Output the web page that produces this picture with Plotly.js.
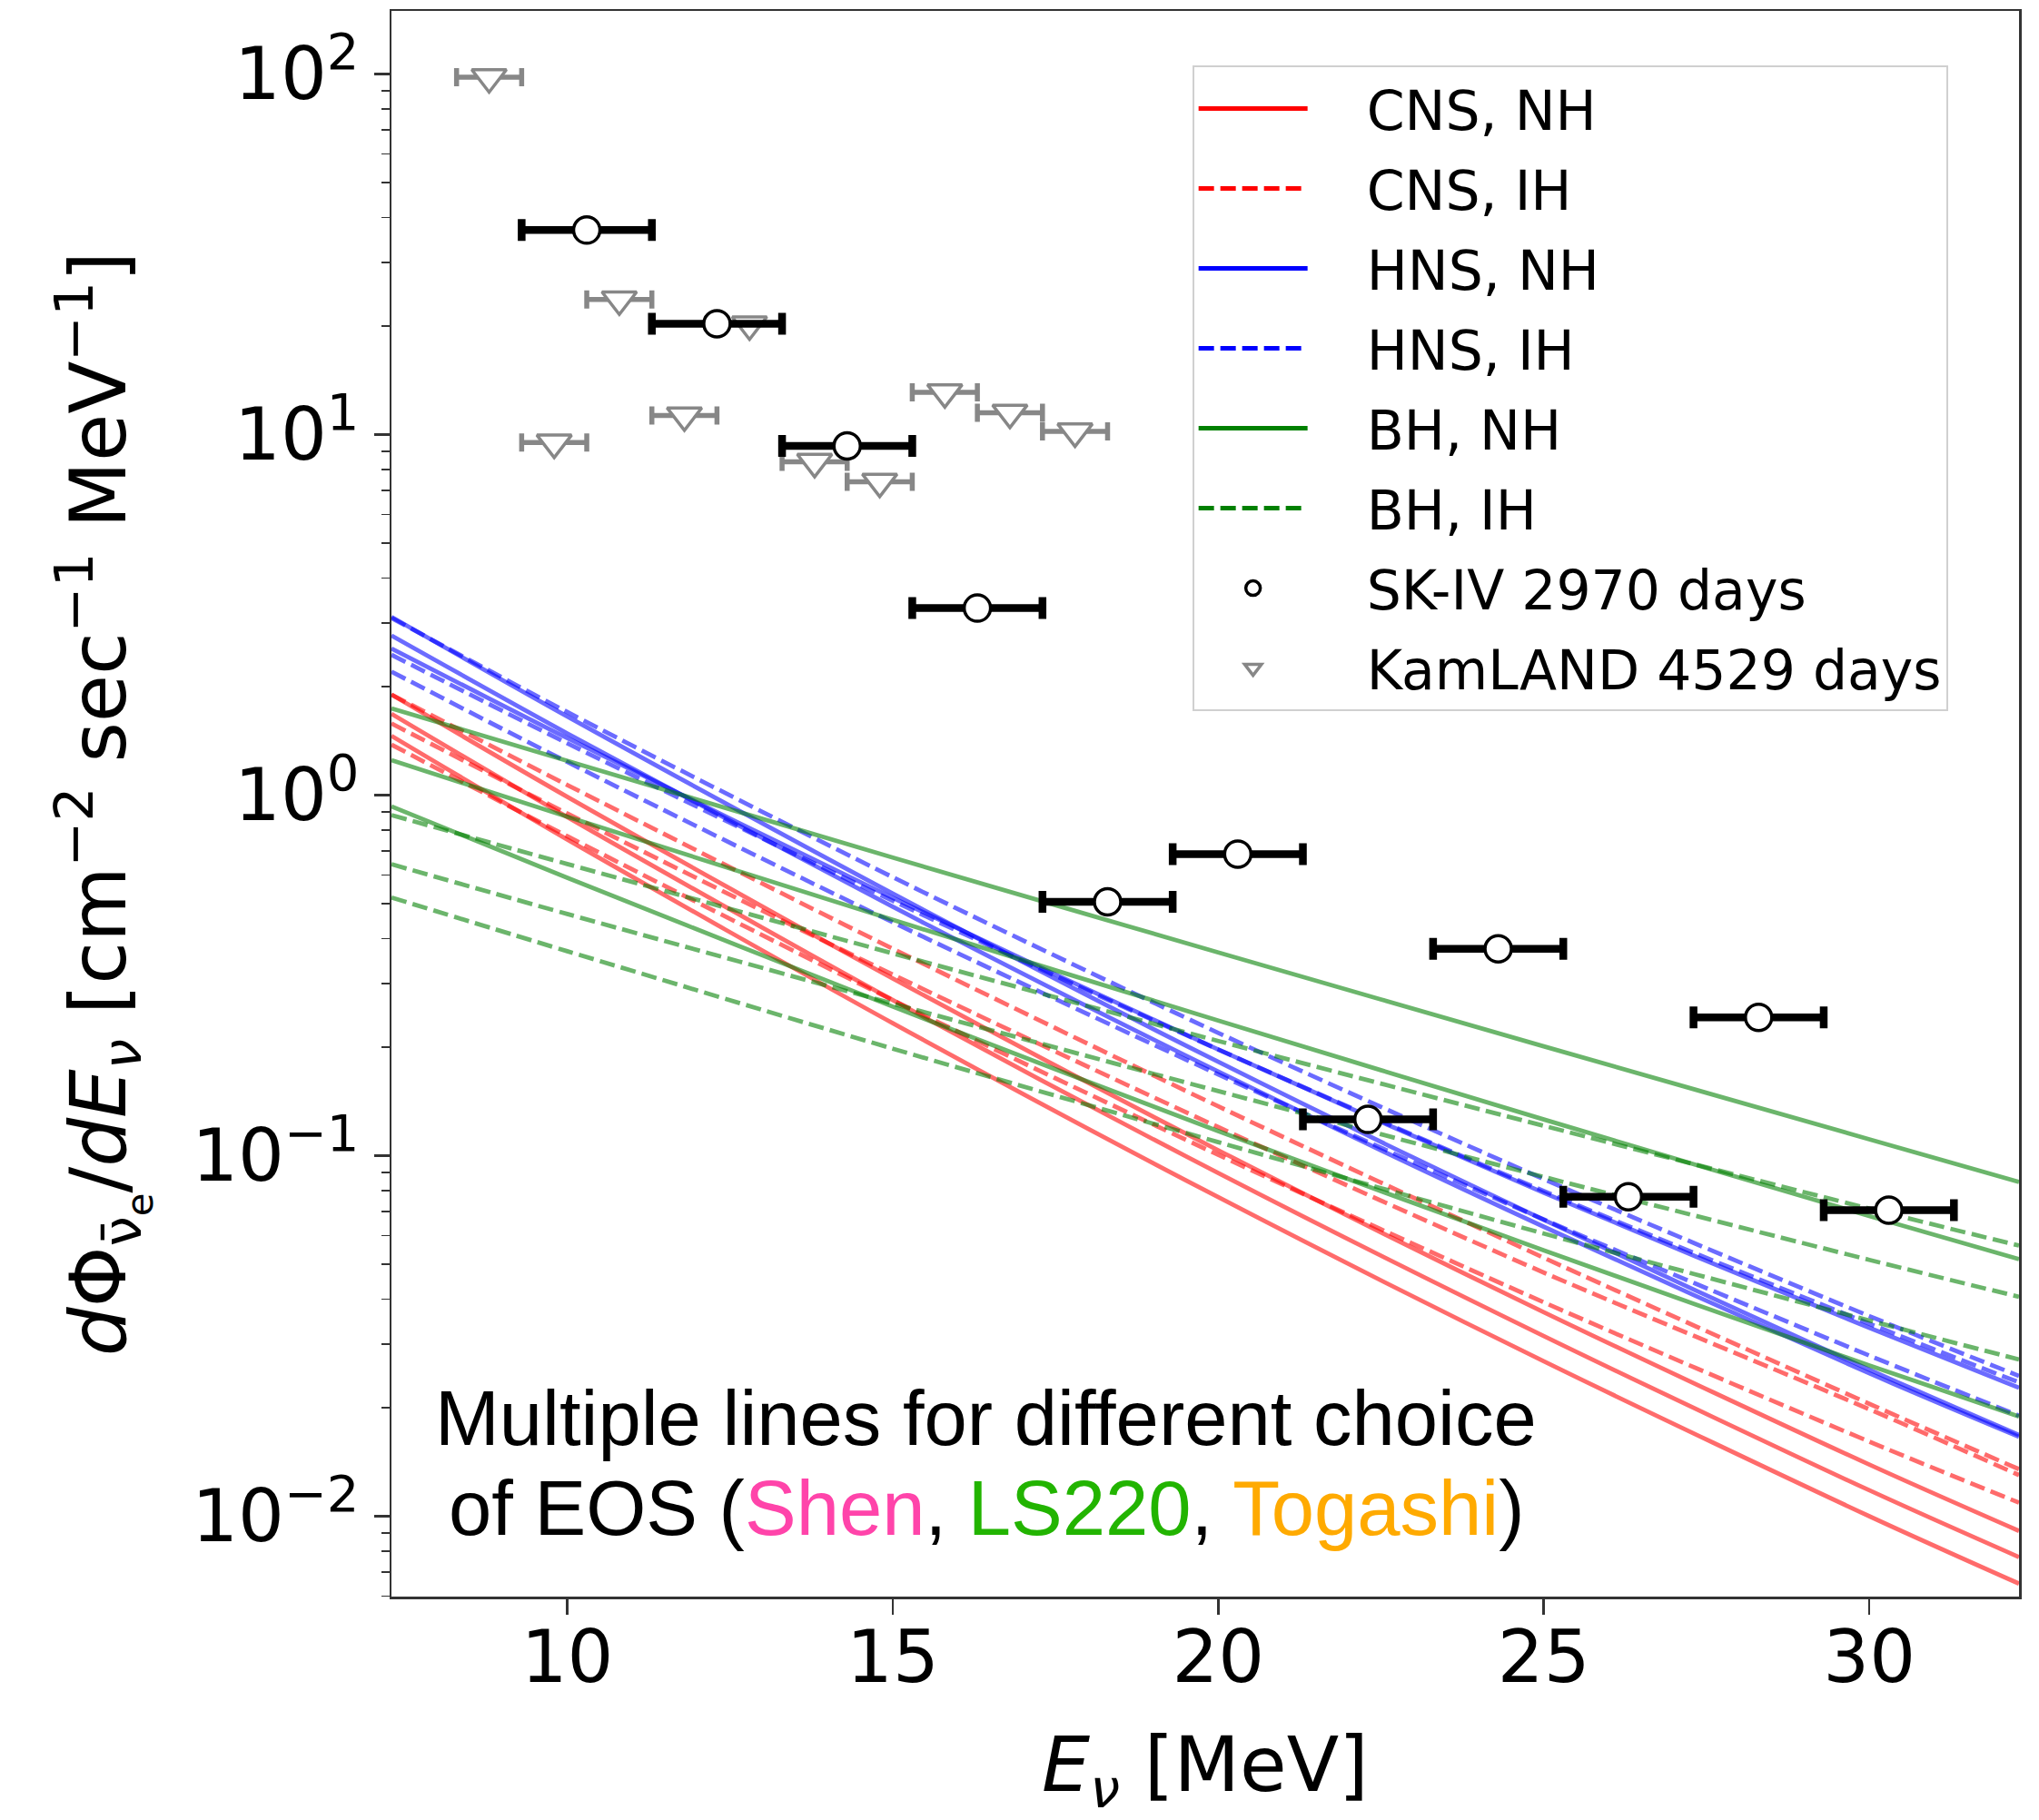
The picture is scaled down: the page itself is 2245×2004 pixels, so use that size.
<!DOCTYPE html>
<html>
<head>
<meta charset="utf-8">
<script src="https://cdn.plot.ly/plotly-3.0.1.min.js"></script>
<style>html,body{margin:0;padding:0;background:#fff;}#chart{width:2245px;height:2004px;}</style>
</head>
<body>
<div id="chart"></div>
<script>
// ---- data ----
const E_MODEL = [7.3, 10, 15, 20, 25, 30, 32.3];

const CNS_NH = [
  [1.90, 0.989, 0.310, 0.1035, 0.0368, 0.0139, 0.0091],
  [1.68, 0.869, 0.270, 0.0895, 0.0316, 0.0118, 0.0077],
  [1.46, 0.753, 0.233, 0.0767, 0.0269, 0.0100, 0.0065]
];
const CNS_IH = [
  [1.90, 1.067, 0.375, 0.137, 0.0521, 0.0205, 0.0135],
  [1.58, 0.889, 0.318, 0.120, 0.0474, 0.0198, 0.0130],
  [1.38, 0.769, 0.270, 0.1005, 0.0392, 0.0161, 0.0109]
];
const HNS_NH = [
  [3.12, 1.652, 0.533, 0.182, 0.0664, 0.0255, 0.0168],
  [2.77, 1.483, 0.490, 0.171, 0.0635, 0.0249, 0.0166],
  [2.55, 1.439, 0.519, 0.197, 0.0789, 0.0333, 0.0227]
];
const HNS_IH = [
  [3.10, 1.700, 0.592, 0.219, 0.0861, 0.0359, 0.0245],
  [2.45, 1.393, 0.509, 0.197, 0.0798, 0.0342, 0.0235],
  [2.20, 1.236, 0.444, 0.168, 0.0665, 0.0279, 0.0190]
];
const BH_NH = [
  [1.74, 1.245, 0.671, 0.366, 0.201, 0.111, 0.0845],
  [1.25, 0.871, 0.451, 0.237, 0.126, 0.068, 0.0516],
  [0.93, 0.590, 0.259, 0.117, 0.0546, 0.0262, 0.0189]
];
const BH_IH = [
  [0.88, 0.644, 0.364, 0.208, 0.121, 0.0713, 0.0563],
  [0.643, 0.468, 0.264, 0.151, 0.0873, 0.0514, 0.0406],
  [0.52, 0.369, 0.198, 0.109, 0.0608, 0.0349, 0.0272]
];

const SK_E  = [10.3, 12.3, 14.3, 16.3, 18.3, 20.3, 22.3, 24.3, 26.3, 28.3, 30.3];
const SK_F  = [36.9, 20.3, 9.3, 3.30, 0.506, 0.686, 0.126, 0.3745, 0.0769, 0.2417, 0.0706];
const SK_DE = [1, 1, 1, 1, 1, 1, 1, 1, 1, 1, 1];

const KL_E  = [8.8, 9.8, 10.8, 11.8, 12.8, 13.8, 14.8, 15.8, 16.8, 17.8];
const KL_F  = [98, 9.5, 23.7, 11.3, 20.2, 8.4, 7.4, 13.1, 11.5, 10.2];
const KL_DE = [0.5, 0.5, 0.5, 0.5, 0.5, 0.5, 0.5, 0.5, 0.5, 0.5];

const LEGEND_NAMES = ['CNS, NH', 'CNS, IH', 'HNS, NH', 'HNS, IH', 'BH, NH', 'BH, IH'];
const SK_NAME = 'SK-IV 2970 days';
const KL_NAME = 'KamLAND 4529 days';

const X_TICKS = [10, 15, 20, 25, 30];
const Y_TICKS = [0.01, 0.1, 1, 10, 100];
const Y_TICKTEXT = ['10<sup>\u22122</sup>', '10<sup>\u22121</sup>', '10<sup>0</sup>', '10<sup>1</sup>', '10<sup>2</sup>'];

// ---- styling ----
const FONT = 'DejaVu Sans, Verdana, sans-serif';
const PAD = '\u2002\u2002';   // visual gap between legend sample and label
const groups = [
  {sets: CNS_NH, rgb: '255,0,0',   dash: 'solid'},
  {sets: CNS_IH, rgb: '255,0,0',   dash: '17px,7px'},
  {sets: HNS_NH, rgb: '0,0,255',   dash: 'solid'},
  {sets: HNS_IH, rgb: '0,0,255',   dash: '17px,7px'},
  {sets: BH_NH,  rgb: '0,128,0',   dash: 'solid'},
  {sets: BH_IH,  rgb: '0,128,0',   dash: '17px,7px'}
];

const traces = [];
// legend entries (full colour samples)
groups.forEach((g, i) => {
  traces.push({
    x: [null], y: [null], mode: 'lines', name: PAD + LEGEND_NAMES[i],
    line: {color: 'rgb(' + g.rgb + ')', width: 5, dash: g.dash},
    legendgroup: 'g' + i, legendrank: i + 1, hoverinfo: 'skip'
  });
});
// model curves
groups.forEach((g, i) => {
  g.sets.forEach(vals => {
    traces.push({
      x: E_MODEL, y: vals, mode: 'lines', showlegend: false,
      line: {color: 'rgba(' + g.rgb + ',0.58)', width: 4.8, dash: g.dash, shape: 'spline', smoothing: 0.8},
      legendgroup: 'g' + i, hoverinfo: 'skip'
    });
  });
});
// KamLAND
traces.push({
  x: KL_E, y: KL_F, mode: 'markers', name: PAD + KL_NAME,
  marker: {symbol: 'triangle-down', size: 33, color: 'white', line: {color: '#878787', width: 3.5}},
  error_x: {type: 'data', array: KL_DE, color: '#878787', thickness: 5.5, width: 10},
  legendgroup: 'kl', legendrank: 8
});
// SK-IV
traces.push({
  x: SK_E, y: SK_F, mode: 'markers', name: PAD + SK_NAME,
  marker: {symbol: 'circle', size: 29, color: 'white', line: {color: 'black', width: 3.5}},
  error_x: {type: 'data', array: SK_DE, color: 'black', thickness: 8.5, width: 12},
  legendgroup: 'sk', legendrank: 7
});

const MINOR = [];
for (let d = -3; d <= 2; d++) for (let k = 2; k <= 9; k++) MINOR.push(k * Math.pow(10, d));

const layout = {
  width: 2245, height: 2004,
  margin: {l: 431, r: 22, t: 12, b: 246, pad: 0},
  paper_bgcolor: 'white', plot_bgcolor: 'white',
  font: {family: FONT, color: 'black'},
  showlegend: true,
  legend: {
    x: 0.492, y: 0.9656, xanchor: 'left', yanchor: 'top',
    bgcolor: 'rgba(255,255,255,0.85)', bordercolor: '#d0d0d0', borderwidth: 2,
    font: {family: FONT, size: 60, color: 'black'},
    traceorder: 'grouped', tracegroupgap: 7, itemwidth: 120
  },
  xaxis: {
    range: [7.3, 32.3], tickmode: 'array', tickvals: X_TICKS,
    ticks: 'outside', ticklen: 17, tickwidth: 2.5, tickcolor: '#333',
    ticklabelstandoff: -22,
    showline: true, linecolor: '#333', linewidth: 2.5, mirror: true,
    showgrid: false, zeroline: false, automargin: false,
    tickfont: {family: FONT, size: 80, color: 'black'},
    title: {text: '<i>E</i><sub><i>\u03bd</i></sub> [MeV]', font: {family: FONT, size: 84, color: 'black'}}
  },
  yaxis: {
    type: 'log', range: [-2.223, 2.175], tickmode: 'array', tickvals: Y_TICKS, ticktext: Y_TICKTEXT,
    ticks: 'outside', ticklen: 17, tickwidth: 2.5, tickcolor: '#333',
    minor: {tickmode: 'array', tickvals: MINOR, ticks: 'outside', ticklen: 9, tickwidth: 1.8, tickcolor: '#333', showgrid: false},
    showline: true, linecolor: '#333', linewidth: 2.5, mirror: true,
    showgrid: false, zeroline: false,
    tickfont: {family: FONT, size: 80, color: 'black'},
    title: {text: '<i>d</i>\u03a6<sub>\u03bd\u0304<sub>e</sub></sub>/<i>dE</i><sub><i>\u03bd</i></sub> [cm<sup>\u22122</sup> sec<sup>\u22121</sup> MeV<sup>\u22121</sup>]',
            font: {family: FONT, size: 85, color: 'black'}, standoff: 45}
  },
  annotations: [
    {xref: 'paper', yref: 'paper', x: 0.3655, y: 0.1123, xanchor: 'center', yanchor: 'middle', showarrow: false,
     text: 'Multiple lines for different choice',
     font: {family: 'Liberation Sans, Arial, sans-serif', size: 85, color: 'black'}},
    {xref: 'paper', yref: 'paper', x: 0.3655, y: 0.0561, xanchor: 'center', yanchor: 'middle', showarrow: false,
     text: 'of EOS (<span style="color:#ff44aa">Shen</span>, <span style="color:#22b400">LS220</span>, <span style="color:#ffaa00">Togashi</span>)',
     font: {family: 'Liberation Sans, Arial, sans-serif', size: 85, color: 'black'}}
  ]
};

Plotly.newPlot('chart', traces, layout, {displayModeBar: false, staticPlot: true});
</script>
</body>
</html>
